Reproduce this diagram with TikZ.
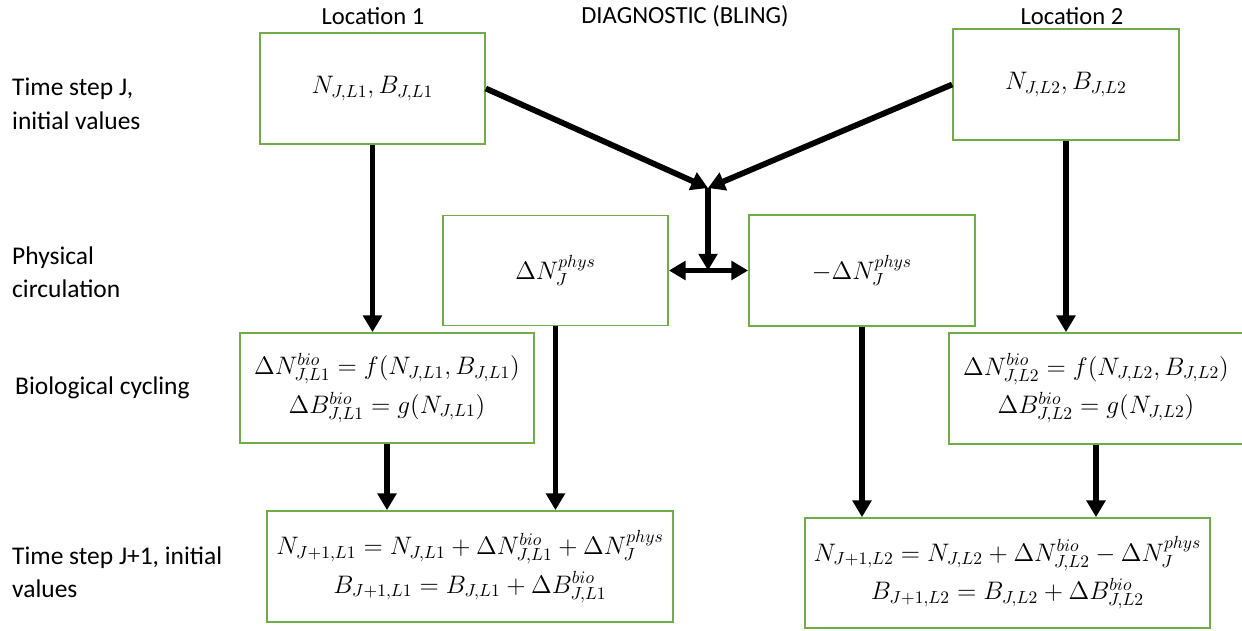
\documentclass[tikz,border=0pt]{standalone}
\usepackage{fontspec}
\setmainfont{Carlito}
\usetikzlibrary{arrows.meta}
\definecolor{boxgreen}{HTML}{70AD47}
\tikzset{
  bigtri/.tip={Triangle[length=9.5pt,width=10.5pt]},
  box/.style={draw=boxgreen, line width=1pt, inner sep=0pt, align=center, font=\fontsize{14.5}{22}\selectfont},
  arr/.style={line width=3.3pt, -bigtri},
  hdr/.style={font=\fontsize{14}{17}\selectfont},
  lbl/.style={anchor=west, align=left, font=\fontsize{14.5}{19}\selectfont},
}
\begin{document}
\begin{tikzpicture}[x=0.02cm,y=-0.02cm]
        \useasboundingbox (0,0) rectangle (1242,630);
        \node[hdr] (loc1) at (373,16) {Location 1};
        \node[hdr] (diag) at (685,16) {DIAGNOSTIC (BLING)};
        \node[hdr] (loc2) at (1072,16) {Location 2};

        \node[lbl] (tsj) at (6,104) {Time step J,\\initial values};
        \node[lbl] (phys) at (6,272) {Physical\\circulation};
        \node[lbl] (bio) at (9,388) {Biological cycling};
        \node[lbl] (tsjj) at (6,572) {Time step J+1, initial\\values};

        \node[box, minimum width=4.5cm, minimum height=2.22cm] (b1) at (372.5,88.5) {$N_{J,L1}, B_{J,L1}$};
        \node[box, minimum width=4.52cm, minimum height=2.22cm] (b2) at (1066,84.5) {$N_{J,L2}, B_{J,L2}$};
        \node[box, minimum width=4.5cm, minimum height=2.2cm] (pl) at (555.5,270.5) {$\Delta N_J^{phys}$};
        \node[box, minimum width=4.52cm, minimum height=2.22cm] (pr) at (862,270.5) {$-\Delta N_J^{phys}$};
        \node[box, minimum width=5.88cm, minimum height=2.2cm] (bl) at (387,388) {$\Delta N_{J,L1}^{bio} = f(N_{J,L1}, B_{J,L1})$\\$\Delta B_{J,L1}^{bio} = g(N_{J,L1})$};
        \node[box, minimum width=5.88cm, minimum height=2.22cm] (br) at (1096,388.5) {$\Delta N_{J,L2}^{bio} = f(N_{J,L2}, B_{J,L2})$\\$\Delta B_{J,L2}^{bio} = g(N_{J,L2})$};
        \node[box, minimum width=8.12cm, minimum height=2.22cm] (nl) at (470,566.5) {$N_{J+1,L1} = N_{J,L1} + \Delta N_{J,L1}^{bio} + \Delta N_J^{phys}$\\$B_{J+1,L1} = B_{J,L1} + \Delta B_{J,L1}^{bio}$};
        \node[box, minimum width=8.1cm, minimum height=2.2cm] (nr) at (1007.5,573) {$N_{J+1,L2} = N_{J,L2} + \Delta N_{J,L2}^{bio} - \Delta N_J^{phys}$\\$B_{J+1,L2} = B_{J,L2} + \Delta B_{J,L2}^{bio}$};

        \coordinate (jn) at (708,188);
        \draw[arr] (b1.east) -- (jn);
        \draw[arr] (b2.west) -- (jn);
        \draw[arr] (jn) -- (jn |- pl.east);
        \draw[arr, bigtri-bigtri] (pl.east) -- (pr.west);

        \draw[arr] (b1.south) -- (b1.south |- bl.north);
        \draw[arr] (b2.south) -- (b2.south |- br.north);
        \draw[arr] (bl.south) -- (bl.south |- nl.north);
        \draw[arr] (pl.south) -- (pl.south |- nl.north);
        \draw[arr] (pr.south) -- (pr.south |- nr.north);
        \draw[arr] (br.south) -- (br.south |- nr.north);
\end{tikzpicture}
\end{document}
